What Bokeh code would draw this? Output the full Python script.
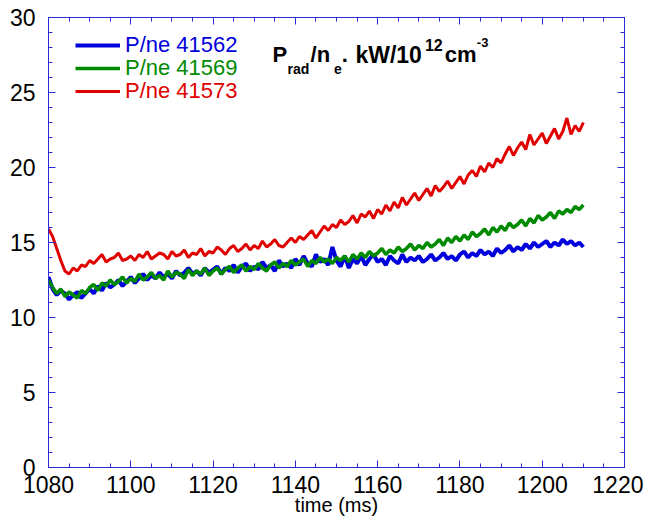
from bokeh.plotting import figure
from bokeh.models import (Range1d, LinearAxis, SingleIntervalTicker, Legend, LegendItem,
                          Label, CustomJSTickFormatter)
from bokeh.embed import file_html
from bokeh.resources import INLINE

# ---- data ----
time_ms = list(range(1080, 1211))

p_41562 = [12.7, 11.9, 11.5, 11.8, 11.6, 11.2, 11.5, 11.7, 11.3, 11.6,
           11.9, 11.6, 12.1, 11.8, 12.3, 12.0, 12.2, 12.5, 12.1, 12.4,
           12.7, 12.3, 12.6, 12.9, 12.5, 12.8, 12.6, 13.0, 12.7, 12.9,
           12.6, 13.1, 12.8, 13.0, 13.3, 12.9, 13.1, 12.8, 13.3, 13.0,
           13.2, 13.4, 12.9, 13.3, 13.1, 13.5, 13.0, 13.4, 13.6, 13.1,
           13.4, 13.2, 13.7, 13.3, 13.5, 13.1, 13.8, 13.4, 13.6, 13.3,
           13.9, 13.5, 14.1, 13.6, 13.4, 14.2, 13.7, 13.9, 13.5, 14.7,
           13.8, 13.4, 14.1, 13.3, 13.9, 13.6, 14.1, 13.5, 13.9, 14.2,
           13.7, 13.9, 13.5, 14.1, 13.8, 13.6, 14.2, 13.7, 14.0, 13.8,
           14.1, 13.7, 13.9, 14.2, 13.8, 14.0, 14.3, 13.9, 14.1, 13.8,
           14.2, 14.4, 14.0, 14.3, 14.1, 14.5, 14.2, 14.4, 14.1, 14.6,
           14.3, 14.5, 14.8, 14.4, 14.7, 14.5, 14.9, 14.6, 15.0, 14.7,
           14.9, 15.1, 14.7, 15.0, 14.8, 15.2, 14.9, 15.1, 14.8, 15.0,
           14.7]

p_41569 = [12.5, 12.0, 11.6, 11.9, 11.4, 11.7, 11.5, 11.3, 11.8, 11.6,
           12.0, 12.2, 11.8, 12.3, 12.1, 12.5, 12.2, 12.4, 12.7, 12.3,
           12.6, 12.4, 12.9, 12.5, 12.7, 13.0, 12.6, 12.8, 12.5, 13.1,
           12.7, 13.0, 12.9, 12.6, 13.2, 12.8, 13.1, 12.9, 13.3, 12.8,
           13.1, 13.3, 12.9, 13.2, 13.4, 13.0, 13.3, 13.5, 13.1, 13.4,
           13.2, 13.6, 13.3, 13.1, 13.5, 13.7, 13.3, 13.6, 13.4, 13.8,
           13.5, 13.7, 13.9, 13.4, 13.8, 13.6, 14.0, 13.7, 13.9, 13.6,
           14.0, 13.8, 14.1, 13.7, 14.2, 13.9, 14.3, 14.0, 14.4, 14.1,
           14.3, 14.6, 14.2, 14.5, 14.3, 14.7, 14.4, 14.6, 14.9, 14.5,
           14.8, 14.6, 15.0, 14.7, 14.9, 15.2, 14.8, 15.3, 15.0, 15.4,
           15.1, 15.5, 15.2, 15.7, 15.4, 15.6, 15.9, 15.5, 16.0, 15.7,
           16.1, 15.8, 16.3, 16.0, 16.2, 16.5, 16.1, 16.6, 16.3, 16.8,
           16.5, 16.7, 17.0, 16.6, 17.1, 16.9, 17.2, 17.0, 17.4, 17.2,
           17.5]

p_41573 = [15.9, 15.4, 14.6, 13.8, 13.1, 12.9, 13.3, 13.1, 13.5, 13.4,
           13.8, 13.6, 13.9, 14.2, 13.7, 13.9, 14.0, 14.3, 13.8, 13.9,
           14.1, 13.8, 14.2, 14.0, 14.4, 13.9, 14.1, 14.3, 14.2, 13.9,
           14.4, 14.1, 14.2, 14.5, 14.0, 14.3, 14.2, 14.6, 14.1, 14.4,
           14.3, 14.7, 14.5, 14.2, 14.6, 14.8, 14.4, 14.6, 14.9, 14.5,
           14.8, 14.6, 15.1, 14.7, 14.9, 15.2, 14.8, 14.7, 15.0, 15.3,
           15.0, 15.4, 15.2, 15.5, 15.8, 15.3, 15.7, 16.1, 15.8, 16.2,
           16.0, 16.5, 16.2, 16.4, 16.8, 16.3, 16.9, 16.7, 17.1, 16.6,
           17.2, 16.9, 17.5, 17.1, 17.7, 17.3, 18.0, 17.5, 17.9, 18.3,
           17.8, 18.2, 18.6, 18.1, 18.8, 18.4, 18.7, 19.1, 18.6, 19.0,
           19.4, 18.9, 19.5, 19.8, 19.4, 20.1, 19.7, 20.3, 20.0, 20.6,
           20.3, 20.9, 21.4, 20.8, 21.3, 21.7, 21.2, 22.2, 21.5, 21.9,
           22.3, 21.6, 22.1, 22.6, 21.9, 22.4, 23.3, 22.2, 22.8, 22.4,
           23.0]

series = [
    ("P/ne 41562", p_41562, "#0000dd", 4.0),
    ("P/ne 41569", p_41569, "#008a00", 3.5),
    ("P/ne 41573", p_41573, "#e00000", 3.0),
]

x_ticks_interval = 20
y_ticks_interval = 5

FONT = "Liberation Sans"
AXIS_BLUE = "#2a2ad8"

p = figure(width=643, height=521, output_backend="svg", toolbar_location=None,
           x_range=Range1d(1080, 1220), y_range=Range1d(0, 30),
           min_border_left=48, min_border_right=19, min_border_top=17, min_border_bottom=54,
           x_axis_label="time (ms)")
p.outline_line_color = AXIS_BLUE
p.xgrid.visible = False
p.ygrid.visible = False

def style_axis(ax, show_labels=True):
    ax.axis_line_color = AXIS_BLUE
    ax.major_tick_line_color = AXIS_BLUE
    ax.minor_tick_line_color = AXIS_BLUE
    ax.major_tick_in = 7
    ax.major_tick_out = 0
    ax.minor_tick_in = 4
    ax.minor_tick_out = 0
    ax.major_label_text_font = FONT
    ax.major_label_text_color = "black"
    ax.axis_label_text_font = FONT
    ax.axis_label_text_font_style = "normal"
    ax.axis_label_text_font_size = "20px"
    ax.axis_label_text_color = "black"
    if show_labels:
        ax.major_label_text_font_size = "23px"
    else:
        ax.formatter = CustomJSTickFormatter(code="return ''")
        ax.major_label_standoff = 0

p.xaxis.ticker = SingleIntervalTicker(interval=x_ticks_interval, num_minor_ticks=4)
p.yaxis.ticker = SingleIntervalTicker(interval=y_ticks_interval, num_minor_ticks=5)
style_axis(p.xaxis[0])
style_axis(p.yaxis[0])
p.xaxis[0].major_label_standoff = 8
p.xaxis[0].axis_label_standoff = -2
p.yaxis[0].major_label_standoff = 13

top = LinearAxis(ticker=SingleIntervalTicker(interval=x_ticks_interval, num_minor_ticks=4))
style_axis(top, False)
p.add_layout(top, "above")
right = LinearAxis(ticker=SingleIntervalTicker(interval=y_ticks_interval, num_minor_ticks=5))
style_axis(right, False)
p.add_layout(right, "right")

renderers = []
for name, vals, col, lw in series:
    r = p.line(time_ms, vals, line_color=col, line_width=lw)
    renderers.append(r)

legend_y = [409, 386, 363]
for (name, vals, col, lw), r, ly in zip(series, renderers, legend_y):
    leg = Legend(items=[LegendItem(label=name, renderers=[r])], location=(27, ly),
                 label_text_color=col, label_text_font=FONT, label_text_font_size="22px",
                 glyph_width=45, glyph_height=26, label_height=26, label_standoff=5,
                 padding=0, margin=0, spacing=0, border_line_alpha=0,
                 background_fill_alpha=0)
    p.add_layout(leg)

# annotation: P_rad/n_e. kW/10^12 cm^-3
ann = [
    ("P", 1134.45, 27.53, "22px"),
    ("rad", 1138.1, 26.6, "14px"),
    ("/n", 1143.7, 27.53, "22px"),
    ("e", 1149.4, 26.6, "14px"),
    (".", 1151.3, 27.53, "22px"),
    ("kW/10", 1154.6, 27.53, "23px"),
    ("12", 1171.5, 28.2, "16px"),
    ("cm", 1176.3, 27.53, "22px"),
    ("-3", 1184.1, 28.33, "13px"),
]
for txt, ax_, ay, fs in ann:
    p.add_layout(Label(x=ax_, y=ay, text=txt, text_font=FONT, text_font_style="bold",
                       text_font_size=fs, text_color="black", text_baseline="alphabetic"))

open("out.html", "w").write(file_html(p, INLINE))
